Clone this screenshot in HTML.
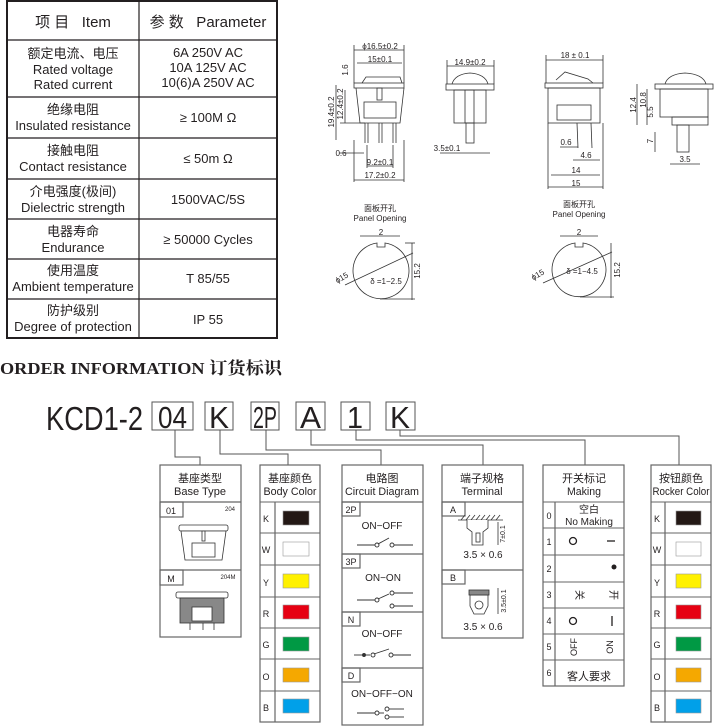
<!DOCTYPE html>
<html><head><meta charset="utf-8"><style>
html,body{margin:0;padding:0;background:#fff;}
svg{display:block;}
text{font-family:"Liberation Sans","Noto Sans CJK SC",sans-serif;fill:#231f20;}
</style></head><body>
<svg width="715" height="726" viewBox="0 0 715 726" xmlns="http://www.w3.org/2000/svg">
<!-- TABLE -->
<g stroke="#231f20" fill="none">
<rect x="7" y="1" width="270" height="337" stroke-width="2"/>
<line x1="139" y1="1" x2="139" y2="338" stroke-width="1.2"/>
<g stroke-width="1.2">
<line x1="7" y1="40" x2="277" y2="40"/><line x1="7" y1="97" x2="277" y2="97"/>
<line x1="7" y1="138" x2="277" y2="138"/><line x1="7" y1="179" x2="277" y2="179"/>
<line x1="7" y1="219" x2="277" y2="219"/><line x1="7" y1="259" x2="277" y2="259"/>
<line x1="7" y1="299" x2="277" y2="299"/></g>
</g>
<g font-size="13" text-anchor="middle">
<text x="73" y="27" font-size="15">项 目 &#160; Item</text>
<text x="208" y="27" font-size="15">参 数 &#160; Parameter</text>
<text x="73" y="58">额定电流、电压</text><text x="73" y="74">Rated voltage</text><text x="73" y="89">Rated current</text>
<text x="208" y="57">6A 250V AC</text><text x="208" y="72">10A 125V AC</text><text x="208" y="87">10(6)A 250V AC</text>
<text x="73" y="114">绝缘电阻</text><text x="73" y="130">Insulated resistance</text><text x="208" y="122">≥ 100M Ω</text>
<text x="73" y="155">接触电阻</text><text x="73" y="171">Contact resistance</text><text x="208" y="163">≤ 50m Ω</text>
<text x="73" y="196">介电强度(极间)</text><text x="73" y="212">Dielectric strength</text><text x="208" y="204">1500VAC/5S</text>
<text x="73" y="236">电器寿命</text><text x="73" y="252">Endurance</text><text x="208" y="244">≥ 50000 Cycles</text>
<text x="73" y="275">使用温度</text><text x="73" y="291">Ambient temperature</text><text x="208" y="283">T 85/55</text>
<text x="73" y="315">防护级别</text><text x="73" y="331">Degree of protection</text><text x="208" y="324">IP 55</text>
</g>

<!-- DRAWINGS LEFT -->
<g stroke="#333" fill="none" stroke-width="0.8">
<path d="M362 83 L366 77 L400 77 L402 83"/>
<rect x="354" y="83" width="50" height="5"/>
<path d="M356 88 L360 123 L400 123 L404 88"/>
<rect x="364" y="102" width="32" height="16"/>
<rect x="377" y="88" width="5" height="12"/>
<line x1="365" y1="123" x2="365" y2="143"/><line x1="368" y1="123" x2="368" y2="143"/>
<line x1="379" y1="123" x2="379" y2="143"/><line x1="382" y1="123" x2="382" y2="143"/>
<line x1="393" y1="123" x2="393" y2="143"/><line x1="396" y1="123" x2="396" y2="143"/>
<line x1="354" y1="50" x2="404" y2="50"/><line x1="357" y1="63" x2="402" y2="63"/>
<line x1="354" y1="45" x2="354" y2="83"/><line x1="404" y1="45" x2="404" y2="83"/>
<line x1="354" y1="180" x2="404" y2="180"/><line x1="354" y1="140" x2="354" y2="182"/><line x1="404" y1="140" x2="404" y2="182"/>
<line x1="367" y1="166" x2="393" y2="166"/><line x1="367" y1="145" x2="367" y2="168"/><line x1="393" y1="145" x2="393" y2="168"/>
<line x1="345" y1="90" x2="345" y2="123"/><line x1="340" y1="123" x2="365" y2="123"/>
<line x1="336" y1="85" x2="336" y2="140"/>
<line x1="339" y1="153" x2="364" y2="153"/>
<path d="M452 84 Q455 74 470 73 Q485 74 488 84"/>
<rect x="446" y="84" width="48" height="6"/>
<rect x="454" y="90" width="32" height="33"/>
<rect x="465" y="90" width="9" height="33"/>
<rect x="466" y="123" width="8" height="20"/>
<line x1="447" y1="66" x2="494" y2="66"/><line x1="447" y1="60" x2="447" y2="84"/><line x1="494" y1="60" x2="494" y2="84"/>
<line x1="440" y1="153" x2="490" y2="153"/>
<path d="M377 243 A28 28 0 1 0 385 243 L385 247 L377 247 Z"/>
<line x1="360" y1="236" x2="400" y2="236"/>
<line x1="345" y1="285" x2="413" y2="253"/>
<line x1="412" y1="243" x2="412" y2="300"/><line x1="405" y1="243" x2="415" y2="243"/><line x1="380" y1="299" x2="415" y2="299"/>
</g>
<g font-size="8" text-anchor="middle">
<text x="380" y="49">ϕ16.5±0.2</text><text x="380" y="62">15±0.1</text>
<text x="380" y="165">9.2±0.1</text><text x="380" y="178">17.2±0.2</text>
<text x="341" y="156">0.6</text>
<text transform="translate(348,70) rotate(-90)">1.6</text>
<text transform="translate(343,104) rotate(-90)">12.4±0.2</text>
<text transform="translate(334,112) rotate(-90)">19.4±0.2</text>
<text x="470" y="65">14.9±0.2</text><text x="447" y="151">3.5±0.1</text>
<text x="380" y="211">面板开孔</text><text x="380" y="221">Panel Opening</text>
<text x="381" y="235">2</text>
<text x="386" y="284">δ =1−2.5</text>
<text transform="translate(343,280) rotate(-30)">ϕ15</text>
<text transform="translate(420,271) rotate(-90)">15.2</text>
</g>

<!-- DRAWINGS RIGHT -->
<g stroke="#333" fill="none" stroke-width="0.8">
<path d="M556 80 L565 72 L588 79 L593 83"/>
<rect x="545" y="83" width="58" height="5"/>
<rect x="548" y="88" width="52" height="35"/>
<rect x="557" y="105" width="34" height="15"/>
<line x1="577" y1="123" x2="578" y2="148"/><line x1="591" y1="123" x2="592" y2="148"/>
<line x1="546" y1="60" x2="603" y2="60"/><line x1="546" y1="55" x2="546" y2="83"/><line x1="603" y1="55" x2="603" y2="83"/>
<line x1="551" y1="175" x2="600" y2="175"/><line x1="548" y1="187" x2="603" y2="187"/>
<line x1="548" y1="123" x2="548" y2="189"/><line x1="603" y1="123" x2="603" y2="189"/>
<line x1="573" y1="160" x2="600" y2="160"/><line x1="560" y1="147" x2="578" y2="147"/>
<path d="M665 84 Q668 74 685 73 Q703 74 706 84"/>
<rect x="655" y="84" width="58" height="5"/>
<rect x="660" y="89" width="48" height="28"/>
<rect x="672" y="117" width="36" height="8"/>
<rect x="677" y="125" width="12" height="27"/>
<line x1="637" y1="84" x2="637" y2="125"/><line x1="647" y1="89" x2="647" y2="125"/>
<line x1="655" y1="132" x2="655" y2="152"/>
<line x1="670" y1="164" x2="700" y2="164"/>
<path d="M575 243 A27 27 0 1 0 583 243 L583 247 L575 247 Z"/>
<line x1="560" y1="236" x2="598" y2="236"/>
<line x1="543" y1="283" x2="612" y2="252"/>
<line x1="611" y1="243" x2="611" y2="298"/><line x1="580" y1="297" x2="614" y2="297"/>
</g>
<g font-size="8" text-anchor="middle">
<text x="575" y="58">18 ± 0.1</text>
<text x="566" y="145">0.6</text><text x="586" y="158">4.6</text><text x="576" y="173">14</text><text x="576" y="186">15</text>
<text transform="translate(636,105) rotate(-90)">12.4</text>
<text transform="translate(646,100) rotate(-90)">10.8</text>
<text transform="translate(653,112) rotate(-90)">5.5</text>
<text transform="translate(653,141) rotate(-90)">7</text>
<text x="685" y="162">3.5</text>
<text x="579" y="207">面板开孔</text><text x="579" y="217">Panel Opening</text>
<text x="579" y="235">2</text>
<text x="582" y="274">δ =1−4.5</text>
<text transform="translate(539,277) rotate(-30)">ϕ15</text>
<text transform="translate(620,270) rotate(-90)">15.2</text>
</g>

<!-- ORDER INFO -->
<text x="0" y="374" font-weight="bold" font-size="17" textLength="282" lengthAdjust="spacingAndGlyphs" style="font-family:'Liberation Serif','Noto Serif CJK SC',serif">ORDER INFORMATION 订货标识</text>
<text x="46" y="430" font-size="33" textLength="97" lengthAdjust="spacingAndGlyphs">KCD1-2</text>
<g stroke="#555" fill="none" stroke-width="1">
<rect x="152" y="402" width="41" height="28"/><rect x="205" y="402" width="28" height="28"/>
<rect x="251" y="402" width="28" height="28"/><rect x="296" y="402" width="29" height="28"/>
<rect x="341" y="402" width="29" height="28"/><rect x="386" y="402" width="29" height="28"/>
<polyline points="175,430 175,457 200,457 200,465"/>
<polyline points="220,430 220,454 288,454 288,465"/>
<polyline points="266,430 266,450 381,450 381,465"/>
<polyline points="311,430 311,445 483,445 483,465"/>
<polyline points="356,430 356,440 585,440 585,465"/>
<polyline points="400,430 400,436 679,436 679,465"/>
</g>
<g font-size="31" lengthAdjust="spacingAndGlyphs">
<text x="158" y="428" textLength="29" lengthAdjust="spacingAndGlyphs">04</text>
<text x="209" y="428" textLength="20" lengthAdjust="spacingAndGlyphs">K</text>
<text x="253" y="428" textLength="24" lengthAdjust="spacingAndGlyphs">2P</text>
<text x="300" y="428" textLength="21" lengthAdjust="spacingAndGlyphs">A</text>
<text x="347" y="428" textLength="16" lengthAdjust="spacingAndGlyphs">1</text>
<text x="390" y="428" textLength="20" lengthAdjust="spacingAndGlyphs">K</text>
</g>

<g stroke="#666" fill="none" stroke-width="1.2">
<rect x="160" y="465" width="81" height="172"/><line x1="160" y1="502" x2="241" y2="502"/><line x1="160" y1="570" x2="241" y2="570"/>
<rect x="160" y="502" width="23" height="15"/><rect x="160" y="570" width="23" height="15"/>
<rect x="260" y="465" width="60" height="257"/><line x1="275" y1="502" x2="275" y2="722"/>
<rect x="342" y="465" width="81" height="260"/><line x1="342" y1="502" x2="423" y2="502"/><line x1="342" y1="554" x2="423" y2="554"/><line x1="342" y1="612" x2="423" y2="612"/><line x1="342" y1="668" x2="423" y2="668"/>
<rect x="342" y="502" width="18" height="14"/><rect x="342" y="554" width="18" height="14"/><rect x="342" y="612" width="18" height="14"/><rect x="342" y="668" width="18" height="14"/>
<rect x="442" y="465" width="81" height="173"/><line x1="442" y1="502" x2="523" y2="502"/><line x1="442" y1="570" x2="523" y2="570"/>
<rect x="442" y="502" width="23" height="14"/><rect x="442" y="570" width="23" height="14"/>
<rect x="543" y="465" width="81" height="221"/><line x1="555" y1="502" x2="555" y2="686"/>
<rect x="651" y="465" width="60" height="257"/><line x1="665" y1="502" x2="665" y2="722"/>
</g>
<g stroke="#666" stroke-width="1">
<line x1="260" y1="502" x2="320" y2="502"/><line x1="260" y1="533" x2="320" y2="533"/><line x1="260" y1="565" x2="320" y2="565"/><line x1="260" y1="597" x2="320" y2="597"/><line x1="260" y1="628" x2="320" y2="628"/><line x1="260" y1="659" x2="320" y2="659"/><line x1="260" y1="691" x2="320" y2="691"/>
<line x1="651" y1="502" x2="711" y2="502"/><line x1="651" y1="533" x2="711" y2="533"/><line x1="651" y1="565" x2="711" y2="565"/><line x1="651" y1="597" x2="711" y2="597"/><line x1="651" y1="628" x2="711" y2="628"/><line x1="651" y1="659" x2="711" y2="659"/><line x1="651" y1="691" x2="711" y2="691"/>
<line x1="543" y1="502" x2="624" y2="502"/><line x1="543" y1="528" x2="624" y2="528"/><line x1="543" y1="555" x2="624" y2="555"/><line x1="543" y1="582" x2="624" y2="582"/><line x1="543" y1="608" x2="624" y2="608"/><line x1="543" y1="634" x2="624" y2="634"/><line x1="543" y1="660" x2="624" y2="660"/>
</g>
<g stroke="#999" stroke-width="0.6">
<rect x="283" y="511" width="26" height="14" fill="#231815"/><rect x="283" y="542" width="26" height="14" fill="#fff"/>
<rect x="283" y="574" width="26" height="14" fill="#fff100"/><rect x="283" y="605" width="26" height="14" fill="#e60012"/>
<rect x="283" y="637" width="26" height="14" fill="#009944"/><rect x="283" y="668" width="26" height="14" fill="#f5a800"/>
<rect x="283" y="699" width="26" height="14" fill="#00a0e9"/>
<rect x="676" y="511" width="25" height="14" fill="#231815"/><rect x="676" y="542" width="25" height="14" fill="#fff"/>
<rect x="676" y="574" width="25" height="14" fill="#fff100"/><rect x="676" y="605" width="25" height="14" fill="#e60012"/>
<rect x="676" y="637" width="25" height="14" fill="#009944"/><rect x="676" y="668" width="25" height="14" fill="#f5a800"/>
<rect x="676" y="699" width="25" height="14" fill="#00a0e9"/>
</g>
<g font-size="11" text-anchor="middle">
<text x="200" y="482">基座类型</text><text x="200" y="495" textLength="52" lengthAdjust="spacingAndGlyphs">Base Type</text>
<text x="290" y="482">基座颜色</text><text x="290" y="495" textLength="53" lengthAdjust="spacingAndGlyphs">Body Color</text>
<text x="382" y="482">电路图</text><text x="382" y="495" textLength="74" lengthAdjust="spacingAndGlyphs">Circuit Diagram</text>
<text x="482" y="482">端子规格</text><text x="482" y="495" textLength="41" lengthAdjust="spacingAndGlyphs">Terminal</text>
<text x="584" y="482">开关标记</text><text x="584" y="495" textLength="34" lengthAdjust="spacingAndGlyphs">Making</text>
<text x="681" y="482">按钮颜色</text><text x="681" y="495" textLength="57" lengthAdjust="spacingAndGlyphs">Rocker Color</text>
</g>
<g font-size="9" text-anchor="middle">
<text x="171" y="514">01</text><text x="171" y="582">M</text>
<text x="266" y="522">K</text><text x="266" y="553">W</text><text x="266" y="586">Y</text><text x="266" y="617">R</text><text x="266" y="648">G</text><text x="266" y="680">O</text><text x="266" y="711">B</text>
<text x="657" y="522">K</text><text x="657" y="553">W</text><text x="657" y="586">Y</text><text x="657" y="617">R</text><text x="657" y="648">G</text><text x="657" y="680">O</text><text x="657" y="711">B</text>
<text x="351" y="513">2P</text><text x="351" y="565">3P</text><text x="351" y="623">N</text><text x="351" y="679">D</text>
<text x="453" y="513">A</text><text x="453" y="581">B</text>
<text x="549" y="519">0</text><text x="549" y="545">1</text><text x="549" y="572">2</text><text x="549" y="598">3</text><text x="549" y="624">4</text><text x="549" y="650">5</text><text x="549" y="676">6</text>
<text x="230" y="511" font-size="6">204</text><text x="228" y="579" font-size="6">204M</text>
</g>
<g font-size="10" text-anchor="middle">
<text x="382" y="529">ON−OFF</text><text x="383" y="581">ON−ON</text><text x="382" y="637">ON−OFF</text><text x="382" y="697">ON−OFF−ON</text>
<text x="483" y="558">3.5 × 0.6</text><text x="483" y="630">3.5 × 0.6</text>
<text x="589" y="513">空白</text><text x="589" y="525">No Making</text>
<text x="589" y="680" font-size="11">客人要求</text>
</g>
<g stroke="#333" fill="#fff" stroke-width="0.8">
<rect x="179" y="525" width="49" height="6" rx="2"/>
<path d="M181 531 L185 560 L222 560 L226 531 Z"/>
<rect x="192" y="543" width="23" height="14"/>
<rect x="202" y="531" width="3" height="10"/>
<rect x="176" y="592" width="52" height="6" rx="2"/>
<rect x="180" y="598" width="44" height="25" fill="#888"/>
<rect x="192" y="607" width="20" height="14" fill="#fff"/>
<line x1="190" y1="623" x2="190" y2="630"/><line x1="203" y1="623" x2="203" y2="630"/><line x1="214" y1="623" x2="214" y2="630"/>
</g>
<g stroke="#333" fill="#fff" stroke-width="0.9">
<line x1="357" y1="545" x2="375" y2="545"/><circle cx="377" cy="545" r="2"/><line x1="378" y1="544" x2="389" y2="538"/><circle cx="392" cy="545" r="2"/><line x1="394" y1="545" x2="413" y2="545"/>
<line x1="357" y1="600" x2="375" y2="600"/><circle cx="377" cy="600" r="2"/><line x1="378" y1="599" x2="389" y2="594"/><circle cx="392" cy="593" r="2"/><line x1="394" y1="593" x2="413" y2="593"/><circle cx="392" cy="606" r="2"/><line x1="394" y1="606" x2="413" y2="606"/>
<line x1="354" y1="655" x2="370" y2="655"/><circle cx="364" cy="655" r="1.5" fill="#333"/><circle cx="373" cy="655" r="2"/><line x1="374" y1="654" x2="389" y2="649"/><circle cx="391" cy="655" r="2"/><line x1="393" y1="655" x2="411" y2="655"/>
<line x1="357" y1="713" x2="375" y2="713"/><circle cx="377" cy="713" r="2"/><line x1="379" y1="713" x2="384" y2="713"/><circle cx="387" cy="709" r="2"/><line x1="389" y1="709" x2="404" y2="709"/><circle cx="387" cy="717" r="2"/><line x1="389" y1="717" x2="404" y2="717"/>
</g>
<g stroke="#333" fill="#fff" stroke-width="0.8">
<line x1="458" y1="520" x2="503" y2="520"/>
<path d="M461 520 L465 515 M466 520 L470 515 M471 520 L475 515 M476 520 L480 515 M481 520 L485 515 M486 520 L490 515 M491 520 L495 515 M496 520 L500 515"/>
<path d="M467 520 L467 528 L472 532 L472 545 L483 545 L483 532 L488 528 L488 520"/>
<rect x="476" y="533" width="4" height="9"/>
<line x1="498" y1="522" x2="498" y2="545"/>
<path d="M470 595 L470 606 L474 614 L484 614 L488 606 L488 595 Z"/><circle cx="479" cy="605" r="4"/>
<rect x="469" y="590" width="20" height="5" fill="#888"/>
<line x1="498" y1="588" x2="498" y2="614"/>
</g>
<g font-size="7" text-anchor="middle"><text transform="translate(505,534) rotate(-90)">7±0.1</text><text transform="translate(506,601) rotate(-90)">3.5±0.1</text></g>
<g stroke="#231f20" stroke-width="1.3" fill="none">
<circle cx="573" cy="541" r="3.5"/><line x1="607" y1="541" x2="615" y2="541"/>
<circle cx="573" cy="621" r="3.5"/><line x1="612" y1="616" x2="612" y2="626"/>
</g>
<circle cx="614" cy="567" r="2.5" fill="#231f20"/>
<g font-size="10" text-anchor="middle">
<text transform="translate(576,595) rotate(90)">关</text><text transform="translate(610,595) rotate(90)">开</text>
<text transform="translate(577,647) rotate(-90)" font-size="9">OFF</text><text transform="translate(613,647) rotate(-90)" font-size="9">ON</text>
</g>
</svg>
</body></html>
